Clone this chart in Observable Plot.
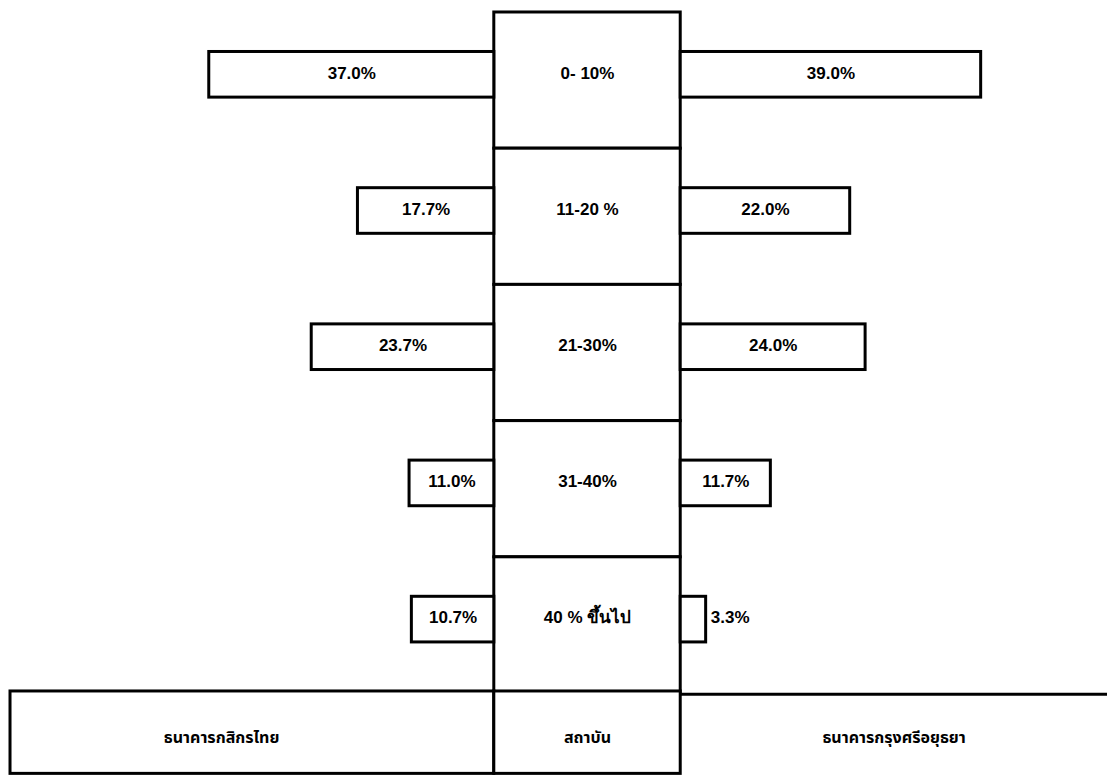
<!DOCTYPE html>
<html>
<head>
<meta charset="utf-8">
<script src="https://cdn.jsdelivr.net/npm/d3@7"></script>
<script src="https://cdn.jsdelivr.net/npm/@observablehq/plot@0.6"></script>
<style>
  html, body { margin: 0; padding: 0; background: #fff; }
  #chart svg { display: block; }
</style>
</head>
<body>
<div id="chart"></div>
<script>
// ---- data ----
const categories = ["0- 10%", "11-20 %", "21-30%", "31-40%", "40 % ขึ้นไป"];
const kasikorn = [37.0, 17.7, 23.7, 11.0, 10.7];   // ธนาคารกสิกรไทย (left)
const ayudhya  = [39.0, 22.0, 24.0, 11.7, 3.3];    // ธนาคารกรุงศรีอยุธยา (right)
const groupLabels = ["ธนาคารกสิกรไทย", "สถาบัน", "ธนาคารกรุงศรีอยุธยา"];

// ---- layout (in percent units / row units) ----
const half = 12.1;          // half width of the central category column
const xMin = -76.2, xMax = 67.5;
const yMin = -0.088, yMax = 5.624;
const barTop = 0.29, barBot = 0.625;
const bottomTop = 4.985, bottomBot = 5.59;

const rows = categories.map((c, i) => ({cat: c, i, left: kasikorn[i], right: ayudhya[i]}));
const wide = rows.filter(d => d.right >= 6);
const narrow = rows.filter(d => d.right < 6);
const fmt = v => v.toFixed(1) + "%";
const font = "'Liberation Sans Narrow', 'Liberation Sans', Arial, sans-serif";
const thaiFont = "'Noto Sans Thai', 'Noto Sans', 'Liberation Sans', sans-serif";
const fs = 17;
const ty = 0.445;

const plot = Plot.plot({
  width: 1107,
  height: 778,
  margin: 0,
  x: {domain: [xMin, xMax], axis: null},
  y: {domain: [yMin, yMax], reverse: true, axis: null},
  style: {background: "#fff", fontFamily: font},
  marks: [
    // central category column
    Plot.rect(rows, {x1: -half, x2: half, y1: d => d.i, y2: d => d.i + 1,
      fill: "white", stroke: "black", strokeWidth: 3}),
    // left bars
    Plot.rect(rows, {x1: d => -half - d.left, x2: -half, y1: d => d.i + barTop, y2: d => d.i + barBot,
      fill: "white", stroke: "black", strokeWidth: 3}),
    // right bars
    Plot.rect(rows, {x1: half, x2: d => half + d.right, y1: d => d.i + barTop, y2: d => d.i + barBot,
      fill: "white", stroke: "black", strokeWidth: 3}),
    // category labels
    Plot.text(rows, {x: 0, y: d => d.i + ty, text: "cat", fontSize: fs, fontWeight: "bold", fill: "black"}),
    // left values
    Plot.text(rows, {x: d => -half - d.left / 2, y: d => d.i + ty, text: d => fmt(d.left),
      fontSize: fs, fontWeight: "bold", fill: "black"}),
    // right values inside bar
    Plot.text(wide, {x: d => half + d.right / 2, y: d => d.i + ty, text: d => fmt(d.right),
      fontSize: fs, fontWeight: "bold", fill: "black"}),
    // right values outside small bar
    Plot.text(narrow, {x: d => half + d.right + 0.6, y: d => d.i + ty, text: d => fmt(d.right),
      textAnchor: "start", fontSize: fs, fontWeight: "bold", fill: "black"}),
    // bottom header row
    Plot.rect([0], {x1: xMin + 1.3, x2: -half, y1: bottomTop, y2: bottomBot, fill: "white", stroke: "black", strokeWidth: 3}),
    Plot.rect([0], {x1: -half, x2: half, y1: bottomTop, y2: bottomBot, fill: "white", stroke: "black", strokeWidth: 3}),
    Plot.ruleY([bottomTop + 0.02], {x1: half, x2: xMax, stroke: "black", strokeWidth: 3}),
    Plot.text(groupLabels, {
      x: (d, i) => [(xMin + 1.3 - half) / 2 - 4, 0, (half + xMax) / 2][i],
      y: (bottomTop + bottomBot) / 2 + 0.04,
      text: d => d, fontSize: 16, fontWeight: "bold", fill: "black", fontFamily: thaiFont
    })
  ]
});
document.getElementById("chart").appendChild(plot);
</script>
</body>
</html>
